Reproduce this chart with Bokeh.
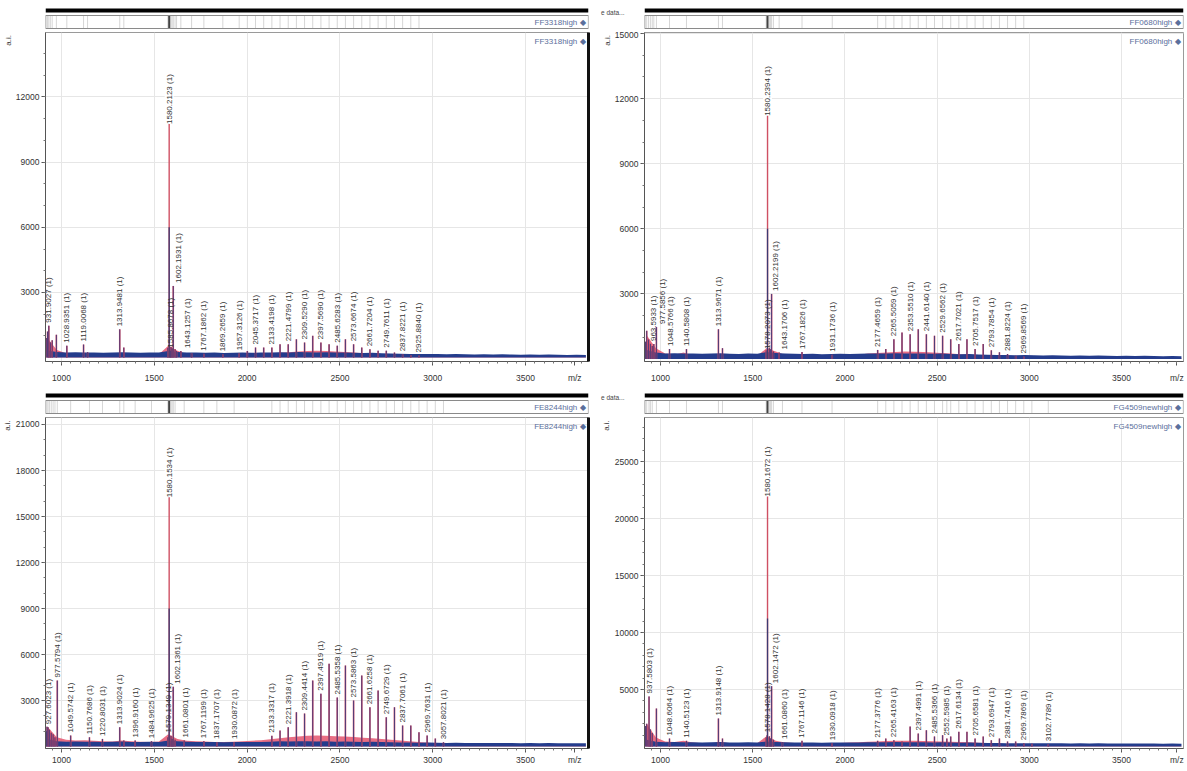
import math
from bokeh.plotting import figure
from bokeh.layouts import column, row
from bokeh.models import ColumnDataSource, FixedTicker, Label, LinearAxis, Range1d
from bokeh.embed import file_html
from bokeh.resources import INLINE
from bokeh.core.properties import value

FONT = "Liberation Sans"

# ---------------- data ----------------
x_ticks = [1000, 1500, 2000, 2500, 3000, 3500]
noise_mz = list(range(925, 3826, 50))

# Panel TL : FF3318high
tl_name = "FF3318high"
tl_yticks = [3000, 6000, 9000, 12000]
tl_main = (1580.2123, 13050, 6000)
tl_lab_mz = [931.9027, 1028.9351, 1119.0068, 1313.9481, 1585.8678, 1602.1931, 1643.1257, 1767.1862,
             1869.2659, 1957.3126, 2045.3717, 2133.4198, 2221.4799, 2309.5290, 2397.5690, 2485.6283,
             2573.6674, 2661.7204, 2749.7611, 2837.8221, 2925.8840]
tl_lab_int = [1470, 550, 600, 1300, 320, 3300, 300, 180, 150, 200, 460, 460, 610, 690, 690, 550,
              610, 380, 320, 150, 100]
tl_pk_mz = [918, 925, 940, 950, 972.6, 1140.6, 1335.9, 1573.0, 1590.0, 1596.0, 1612.0, 1620.0, 1701.0,
            2001.3, 2089.4, 2177.4, 2265.5, 2353.5, 2441.6, 2529.6, 2617.7, 2705.7, 2793.8, 2881.8]
tl_pk_int = [900, 1200, 700, 800, 1050, 250, 460, 450, 500, 420, 380, 300, 200,
             300, 460, 610, 840, 1000, 610, 840, 460, 320, 230, 120]
tl_blue = [330, 260, 240, 250, 230, 240, 220, 230, 250, 230,
           220, 240, 230, 300, 260, 240, 230, 220, 230, 210,
           220, 230, 220, 230, 240, 250, 240, 260, 250, 240,
           250, 230, 240, 220, 210, 220, 200, 190, 180, 170,
           160, 170, 160, 150, 160, 150, 140, 150, 140, 150,
           140, 130, 140, 130, 140, 130, 120, 130, 120]
tl_red = [900, 350, 200, 150, 220, 150, 120, 100, 150, 120,
          100, 100, 150, 550, 320, 150, 120, 100, 100, 100,
          120, 150, 150, 180, 200, 220, 250, 280, 300, 320,
          300, 280, 260, 230, 200, 180, 150, 120, 100, 80,
          60, 50, 40, 30, 30, 30, 30, 30, 30, 30,
          30, 30, 30, 30, 30, 30, 30, 30, 30]

# Panel TR : FF0680high
tr_name = "FF0680high"
tr_yticks = [3000, 6000, 9000, 12000, 15000]
tr_main = (1580.2394, 13500, 6000)
tr_lab_mz = [963.5933, 977.5856, 1048.5766, 1140.5808, 1313.9671, 1578.2073, 1602.2199, 1643.1706,
             1767.1826, 1931.1736, 2177.4659, 2265.5059, 2353.5510, 2441.6140, 2529.6562, 2617.7021,
             2705.7517, 2793.7854, 2881.8224, 2969.8569]
tr_lab_int = [690, 1470, 460, 460, 1370, 320, 3000, 300, 320, 200, 420, 910, 1140, 1140, 1070, 690,
              460, 400, 230, 120]
tr_pk_mz = [918, 925, 935, 945, 955, 1335.9, 1573.0, 1590.0, 1596.0, 1612.0, 2221.5, 2309.5, 2397.6,
            2485.6, 2573.7, 2661.7, 2749.8, 2837.8, 2925.8]
tr_pk_int = [800, 1300, 900, 700, 600, 500, 400, 500, 450, 350, 460, 1220, 1370,
             1070, 910, 910, 690, 310, 150]
tr_blue = [420, 300, 260, 270, 250, 260, 240, 250, 270, 240,
           230, 250, 240, 320, 280, 250, 240, 230, 240, 220,
           230, 240, 230, 240, 250, 260, 250, 270, 260, 250,
           260, 240, 250, 230, 220, 230, 210, 200, 190, 180,
           170, 180, 170, 160, 170, 160, 150, 160, 150, 160,
           150, 140, 150, 140, 150, 140, 130, 140, 130]
tr_red = [1100, 500, 250, 200, 300, 150, 120, 120, 200, 120,
          100, 100, 150, 500, 350, 180, 150, 120, 100, 100,
          120, 150, 180, 200, 250, 280, 300, 320, 350, 330,
          320, 300, 280, 250, 220, 200, 170, 140, 110, 90,
          70, 50, 40, 30, 30, 30, 30, 30, 30, 30,
          30, 30, 30, 30, 30, 30, 30, 30, 30]

# Panel BL : FE8244high
bl_name = "FE8244high"
bl_yticks = [3000, 6000, 9000, 12000, 15000, 18000, 21000]
bl_main = (1580.1534, 19500, 9000)
bl_lab_mz = [927.6023, 977.5794, 1049.5742, 1150.7686, 1220.8031, 1313.9024, 1396.9160, 1484.9625,
             1579.1349, 1602.1361, 1661.0801, 1767.1199, 1837.1707, 1930.0872, 2133.3317, 2221.3918,
             2309.4414, 2397.4919, 2485.5358, 2573.5863, 2661.6258, 2749.6729, 2837.7061, 2969.7631,
             3057.8021]
bl_lab_int = [1260, 4300, 720, 600, 500, 1260, 400, 350, 720, 3900, 400, 350, 300, 300, 700, 1260,
              2150, 3450, 3200, 3000, 2560, 1910, 1370, 720, 280]
bl_pk_mz = [918, 922, 935, 945, 955, 965, 1335.9, 1573.0, 1590.0, 1596.0, 1612.0, 2177.4, 2265.5,
            2353.5, 2441.6, 2529.6, 2617.7, 2705.7, 2793.8, 2881.8, 2925.8, 3013.8]
bl_pk_int = [1000, 1300, 1100, 900, 800, 600, 400, 600, 700, 500, 450, 1040, 2240,
             4300, 5400, 5280, 4630, 3650, 2560, 1370, 930, 520]
bl_blue = [500, 350, 320, 330, 310, 320, 300, 310, 330, 300,
           290, 310, 300, 400, 340, 310, 300, 290, 300, 280,
           290, 300, 290, 300, 320, 340, 330, 350, 340, 330,
           340, 320, 330, 310, 300, 310, 290, 280, 270, 260,
           250, 260, 250, 240, 250, 240, 230, 240, 230, 240,
           230, 220, 230, 220, 230, 220, 210, 220, 210]
bl_red = [1300, 600, 450, 400, 420, 380, 350, 330, 400, 350,
          320, 300, 330, 800, 500, 380, 350, 330, 300, 300,
          320, 350, 380, 420, 480, 550, 600, 650, 700, 720,
          700, 680, 650, 620, 580, 540, 500, 450, 400, 350,
          300, 250, 200, 150, 100, 60, 50, 40, 40, 40,
          40, 40, 40, 40, 40, 40, 40, 40, 40]

# Panel BR : FG4509newhigh
br_name = "FG4509newhigh"
br_yticks = [5000, 10000, 15000, 20000, 25000]
br_main = (1580.1672, 26300, 11230)
br_lab_mz = [937.5803, 1048.6064, 1140.5123, 1313.9148, 1578.1428, 1602.1472, 1661.0860, 1767.1146,
             1930.0918, 2177.3776, 2265.4163, 2397.4991, 2485.5366, 2552.5985, 2617.6134, 2705.6581,
             2793.6947, 2881.7416, 2969.7869, 3102.7789]
br_lab_int = [4400, 700, 500, 2460, 1000, 5300, 400, 500, 300, 500, 560, 1140, 880, 700, 1290, 700,
              560, 440, 300, 200]
br_pk_mz = [918, 925, 945, 955, 977.6, 1335.9, 1573.0, 1590.0, 1596.0, 1612.0, 2221.5, 2309.5, 2353.5,
            2441.6, 2529.6, 2573.7, 2661.7, 2749.8, 2837.8, 2925.8, 3013.8]
br_pk_int = [1800, 2000, 1500, 1200, 3330, 700, 800, 900, 700, 600, 700, 440, 1750,
             1430, 1000, 880, 1290, 880, 700, 440, 250]
br_blue = [600, 420, 380, 390, 370, 380, 360, 370, 390, 360,
           350, 370, 360, 450, 400, 370, 360, 350, 360, 340,
           350, 360, 350, 360, 370, 380, 370, 390, 380, 370,
           380, 360, 370, 350, 340, 350, 330, 320, 310, 300,
           290, 300, 290, 280, 290, 280, 270, 280, 270, 280,
           270, 260, 270, 260, 270, 260, 250, 260, 250]
br_red = [2000, 800, 450, 400, 500, 350, 300, 300, 400, 300,
          280, 280, 320, 900, 500, 350, 320, 300, 280, 280,
          300, 320, 350, 380, 420, 450, 480, 500, 520, 500,
          480, 460, 440, 420, 400, 370, 340, 300, 260, 220,
          180, 140, 100, 70, 50, 40, 40, 40, 40, 40,
          40, 40, 40, 40, 40, 40, 40, 40, 40]

# ---------------- styling / layout ----------------
RED = "#d8455f"
NAVY = "#2c3a80"
BAND = "#243c8c"
HAZE = "#e4556f"
NAME_COL = "#5b6f9c"
LAB_SIZE = "8px"
FRAME_H = 331


def build_panel(name, side, row_idx, xr, yr, yticks, lab_mz, lab_int, pk_mz, pk_int,
                main, blue_noise, red_noise):
    if side == "L":
        W, mbl, mbr = 592, 44, 4
        mz_tick = 3765
    else:
        W, mbl, mbr = 595, 52, 4
        mz_tick = 3800
    if row_idx == 0:
        SH, MH, mbb, stand = 31, 354, 22, 7
    else:
        SH, MH, mbb, stand = 31, 355, 23, 2
    x0, x1 = xr
    y0, y1 = yr
    fw = W - mbl - mbr
    mzpp = (x1 - x0) / fw
    ypp = (y1 - y0) / FRAME_H

    all_mz = list(lab_mz) + list(pk_mz)
    all_int = list(lab_int) + list(pk_int)
    main_mz, main_red, main_blue = main

    # ---- overview strip (frame aligned with the spectrum frame) ----
    s = figure(width=W, height=SH, x_range=Range1d(x0, x1), y_range=Range1d(0, SH),
               output_backend="svg", toolbar_location=None, min_border=0,
               min_border_left=mbl, min_border_right=mbr,
               x_axis_location=None, y_axis_location=("left" if side == "R" else None))
    s.grid.visible = False
    s.outline_line_color = None
    s.background_fill_color = "white"
    s.border_fill_color = "white"
    s.quad(left=[x0], right=[x1], bottom=[19], top=[23], fill_color="black", line_color=None)
    s.quad(left=[x0], right=[x1], bottom=[3], top=[16],
           fill_color="white", line_color="#8a8a8a", line_width=1.2)
    s.segment(x0=all_mz, y0=3.5, x1=all_mz, y1=15.5, line_color="#d6d6d6", line_width=1)
    s.segment(x0=[main_mz], y0=[3.5], x1=[main_mz], y1=[15.5], line_color="#444", line_width=2)
    s.text(x=[x1], y=[9.5], text=[name + " \u25c6"], x_offset=-3, text_align="right",
           text_baseline="middle", text_font_size="8px", text_color=NAME_COL,
           text_font=value(FONT))
    if side == "R":
        ya = s.yaxis[0]
        ya.ticker = FixedTicker(ticks=[19])
        ya.major_label_overrides = {19: "e data..."}
        ya.axis_line_color = None
        ya.major_tick_line_color = None
        ya.minor_tick_line_color = None
        ya.major_tick_out = 0
        ya.minor_tick_out = 0
        ya.major_label_standoff = 20
        ya.major_label_text_font_size = "6.5px"
        ya.major_label_text_color = "#444"
        ya.major_label_text_font = FONT

    # ---- main spectrum ----
    p = figure(width=W, height=MH, x_range=Range1d(x0, x1), y_range=Range1d(y0, y1),
               output_backend="svg", toolbar_location=None, min_border=0,
               min_border_left=mbl, min_border_right=mbr, min_border_top=1,
               min_border_bottom=mbb)
    p.background_fill_color = "white"
    p.border_fill_color = "white"
    p.outline_line_color = "#9a9a9a"

    x_minor = [v for v in range(900, 3900, 50) if x0 <= v <= x1]
    y_minor = [v for v in range(1000, int(y1), 1000)]
    p.xaxis.ticker = FixedTicker(ticks=x_ticks + [mz_tick], minor_ticks=x_minor)
    p.xaxis.major_label_overrides = {mz_tick: "m/z"}
    p.yaxis.ticker = FixedTicker(ticks=yticks, minor_ticks=y_minor)
    p.xgrid.ticker = FixedTicker(ticks=x_ticks)
    p.ygrid.ticker = FixedTicker(ticks=yticks)
    p.grid.grid_line_color = "#e6e6e6"
    p.grid.grid_line_width = 1
    for ax in (p.xaxis, p.yaxis):
        ax.axis_line_color = "#555"
        ax.major_tick_line_color = "#555"
        ax.minor_tick_line_color = "#777"
        ax.major_tick_in = 0
        ax.major_tick_out = 4
        ax.minor_tick_in = 0
        ax.minor_tick_out = 2
        ax.major_label_text_font_size = "8.5px"
        ax.major_label_text_color = "#333"
        ax.major_label_text_font = FONT
    p.xaxis.major_label_standoff = stand
    p.yaxis.major_label_standoff = 2

    # "a.i." as an outer left axis with a single labelled position near the top
    ai_tick = int(round(y1 - 8 * ypp))
    ai_axis = LinearAxis(ticker=FixedTicker(ticks=[ai_tick]),
                         major_label_overrides={ai_tick: "a.i."},
                         major_label_orientation="vertical",
                         axis_line_color=None, major_tick_line_color=None,
                         minor_tick_line_color=None, major_tick_out=0, minor_tick_out=0,
                         major_label_standoff=0, major_label_text_font_size="8px",
                         major_label_text_color="#333", major_label_text_font=FONT)
    p.add_layout(ai_axis, "left")

    if side == "L":
        rax = LinearAxis(ticker=FixedTicker(ticks=[]), axis_line_width=3, axis_line_color="#111",
                         major_label_text_font_size="0px", major_tick_line_color=None,
                         minor_tick_line_color=None, major_tick_out=0, minor_tick_out=0,
                         major_label_standoff=0)
        p.add_layout(rax, "right")

    # noise band
    p.varea(x=noise_mz, y1=0, y2=red_noise, fill_color=HAZE, fill_alpha=0.85)
    p.varea(x=noise_mz, y1=0, y2=blue_noise, fill_color=BAND, fill_alpha=1.0)

    # peaks
    p.segment(x0=all_mz, y0=0, x1=all_mz, y1=all_int, line_color=RED, line_width=1.6)
    p.segment(x0=all_mz, y0=0, x1=all_mz, y1=all_int, line_color=NAVY, line_width=0.9, line_alpha=0.9)
    p.segment(x0=[main_mz], y0=[0], x1=[main_mz], y1=[main_red], line_color="#cf5063", line_width=1.4)
    p.segment(x0=[main_mz], y0=[0], x1=[main_mz], y1=[main_blue], line_color="#3d3a72", line_width=1.3)

    # peak labels with a simple horizontal de-overlap
    order = sorted(range(len(lab_mz)), key=lambda i: lab_mz[i])
    xoff = [0.0] * len(lab_mz)
    prev = None
    for i in order:
        pos = (lab_mz[i] - x0) / mzpp
        if prev is not None and pos - prev < 8.5:
            xoff[i] = prev + 8.5 - pos
            pos = prev + 8.5
        prev = pos
    src = ColumnDataSource(dict(x=lab_mz, y=lab_int, text=[f"{m:.4f} (1)" for m in lab_mz], xoff=xoff))
    p.text(x="x", y="y", text="text", x_offset="xoff", y_offset=-3, angle=math.pi / 2,
           text_align="left", text_baseline="middle", text_font_size=LAB_SIZE,
           text_color="#333", text_font=value(FONT), source=src)

    p.add_layout(Label(x=main_mz, y=main_red, text=f"{main_mz:.4f} (1)", angle=math.pi / 2,
                       text_align="right", text_baseline="middle", text_font_size=LAB_SIZE,
                       text_color="#333", text_font=FONT, background_fill_color="white"))

    p.text(x=[x1], y=[y1], text=[name + " \u25c6"], x_offset=-3, y_offset=4, text_align="right",
           text_baseline="top", text_font_size="8px", text_color=NAME_COL, text_font=value(FONT))
    return s, p


sTL, pTL = build_panel(tl_name, "L", 0, (914, 3839), (-180, 14970), tl_yticks, tl_lab_mz, tl_lab_int,
                       tl_pk_mz, tl_pk_int, tl_main, tl_blue, tl_red)
sTR, pTR = build_panel(tr_name, "R", 0, (913, 3836), (-114, 15046), tr_yticks, tr_lab_mz, tr_lab_int,
                       tr_pk_mz, tr_pk_int, tr_main, tr_blue, tr_red)
sBL, pBL = build_panel(bl_name, "L", 1, (914, 3839), (-126, 21456), bl_yticks, bl_lab_mz, bl_lab_int,
                       bl_pk_mz, bl_pk_int, bl_main, bl_blue, bl_red)
sBR, pBR = build_panel(br_name, "R", 1, (913, 3836), (-170, 28860), br_yticks, br_lab_mz, br_lab_int,
                       br_pk_mz, br_pk_int, br_main, br_blue, br_red)

layout = row(column(sTL, pTL, sBL, pBL), column(sTR, pTR, sBR, pBR))

with open("out.html", "w") as f:
    f.write(file_html(layout, INLINE, title="spectra"))
